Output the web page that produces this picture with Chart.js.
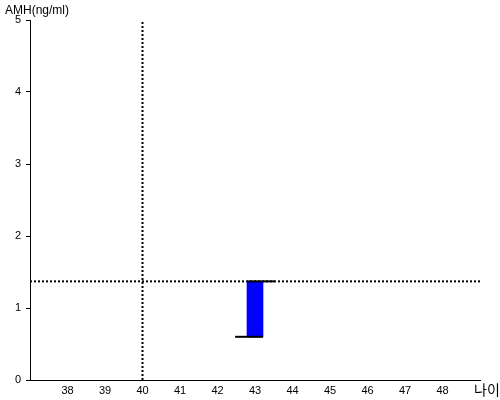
<!DOCTYPE html>
<html>
<head>
<meta charset="utf-8">
<script src="https://cdn.jsdelivr.net/npm/chart.js@4/dist/chart.umd.min.js"></script>
<style>
  body { margin: 0; background: #fff; }
  #wrap { width: 500px; height: 400px; }
</style>
</head>
<body>
<div id="wrap"><canvas id="chartAmh" width="500" height="400"></canvas></div>
<script>
// données
const ageTicks = [38, 39, 40, 41, 42, 43, 44, 45, 46, 47, 48];
const amhTicks = [0, 1, 2, 3, 4, 5];
const refAge = 40;
const refAmh = 1.37;
const barAge = [43];
const barLow = [0.6];
const barHigh = [1.37];
const lowCapAges = [42.47, 43.21];
const highCapAges = [42.79, 43.53];

const font = "Liberation Sans, Arial, sans-serif";

// titres des axes dessinés à la main
const axisTitles = {
    id: 'axisTitles',
    afterDraw(chart) {
        const ctx = chart.ctx;
        ctx.save();
        ctx.fillStyle = '#000';
        ctx.textBaseline = 'middle';
        ctx.textAlign = 'left';
        ctx.font = '12px ' + font;
        ctx.fillText('AMH(ng/ml)', 5, 11);
        ctx.font = '14px "Noto Sans CJK KR", sans-serif';
        ctx.fillText('나이', 474, 390);
        ctx.restore();
    }
};

const dotted = { borderColor: '#000', borderWidth: 2, borderDash: [2, 2], pointRadius: 0, fill: false };

const datas = {
    datasets: [
        Object.assign({ type: 'line', label: 'ref age', data: [{x: refAge, y: 0}, {x: refAge, y: 5}], order: 5 }, dotted),
        Object.assign({ type: 'line', label: 'ref amh', data: [{x: 37, y: refAmh}, {x: 49, y: refAmh}], order: 4 }, dotted),
        {
            type: 'bar',
            label: 'AMH',
            data: barAge.map((a, i) => ({x: a, y: [barLow[i], barHigh[i]]})),
            backgroundColor: '#0000ff',
            borderWidth: 0,
            barThickness: 16,
            order: 3
        },
        {
            type: 'line',
            label: 'low cap',
            data: lowCapAges.map(a => ({x: a, y: barLow[0]})),
            borderColor: '#000', borderWidth: 2, pointRadius: 0, order: 1
        },
        {
            type: 'line',
            label: 'high cap',
            data: highCapAges.map(a => ({x: a, y: barHigh[0]})),
            borderColor: '#000', borderWidth: 2, pointRadius: 0, order: 1
        }
    ]
};

const config = {
    data: datas,
    plugins: [axisTitles],
    options: {
        responsive: false,
        animation: false,
        layout: { padding: { top: 20, right: 20, left: 0, bottom: 0 } },
        plugins: { legend: { display: false }, tooltip: { enabled: false } },
        scales: {
            x: {
                type: 'linear',
                min: 37,
                max: 49,
                offset: false,
                afterBuildTicks: scale => { scale.ticks = ageTicks.map(v => ({value: v})); },
                afterFit: scale => { scale.height = 20; },
                grid: { display: false, drawTicks: false, offset: false },
                border: { color: '#000', width: 1 },
                ticks: { color: '#000', font: { family: font, size: 11 }, padding: 4, maxRotation: 0 }
            },
            y: {
                type: 'linear',
                min: 0,
                max: 5,
                afterBuildTicks: scale => { scale.ticks = amhTicks.map(v => ({value: v})); },
                afterFit: scale => { scale.width = 30; },
                grid: { drawOnChartArea: false, color: '#000', tickLength: 4 },
                border: { color: '#000', width: 1 },
                ticks: { color: '#000', font: { family: font, size: 11 }, padding: 5 }
            }
        }
    }
};

const myChart = new Chart(document.getElementById('chartAmh'), config);
</script>
</body>
</html>
